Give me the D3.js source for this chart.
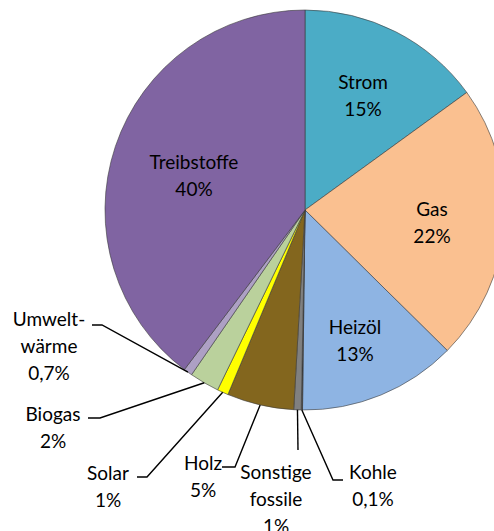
<!DOCTYPE html>
<html>
<head>
<meta charset="utf-8">
<script src="https://cdn.jsdelivr.net/npm/d3@7"></script>
<style>
  html, body { margin: 0; padding: 0; background: #fff; }
  text { font-family: Lato, "Open Sans", sans-serif; font-size: 19px; fill: #000; }
</style>
</head>
<body>
<script>
// Anteile am Endenergieverbrauch (Prozent), im Uhrzeigersinn ab 12 Uhr
const categories = ["Strom", "Gas", "Heizöl", "Kohle", "Sonstige fossile", "Holz", "Solar", "Biogas", "Umweltwärme", "Treibstoffe"];
const values = [15, 22.4, 12.8, 0.1, 0.6, 5.4, 0.9, 2.4, 0.7, 39.7];
const labels = [
  ["Strom", "15%"],
  ["Gas", "22%"],
  ["Heizöl", "13%"],
  ["Kohle", "0,1%"],
  ["Sonstige", "fossile", "1%"],
  ["Holz", "5%"],
  ["Solar", "1%"],
  ["Biogas", "2%"],
  ["Umwelt-", "wärme", "0,7%"],
  ["Treibstoffe", "40%"]
];
const colors = ["#4bacc6", "#fac090", "#8eb4e3", "#3f3f3f", "#808080", "#83661e", "#ffff00", "#bad19c", "#ada0c4", "#8064a2"];

(() => {
  const W = 494, H = 531;
  const cx = 305, cy = 210, r = 200;
  const lineH = 27;

  // Beschriftungen: innen (nur Position) oder außen mit Führungslinie (Knick + Ende)
  const layout = [
    { x: 363, y: 82 },
    { x: 432, y: 209 },
    { x: 355, y: 327 },
    { x: 373, y: 472, lead: [[333, 480], [343, 480]] },
    { x: 276, y: 472, lead: [[298, 450]] },
    { x: 203, y: 463, lead: [[235, 467], [222, 467]] },
    { x: 108, y: 473, lead: [[147, 477], [137, 477]] },
    { x: 53, y: 414, lead: [[100, 418], [88, 418]] },
    { x: 49, y: 319, lead: [[102, 325], [92, 325]] },
    { x: 194, y: 162 }
  ];

  const svg = d3.select("body").append("svg")
    .attr("width", W)
    .attr("height", H);

  const g = svg.append("g").attr("transform", "translate(" + cx + "," + cy + ")");

  const pie = d3.pie().sort(null).value(d => d);
  const arcs = pie(values);
  const arc = d3.arc().innerRadius(0).outerRadius(r);

  g.selectAll("path.slice")
    .data(arcs)
    .enter().append("path")
    .attr("class", "slice")
    .attr("d", arc)
    .attr("fill", (d, i) => colors[i])
    .attr("stroke", "#3a3a3a")
    .attr("stroke-width", 0.6)
    .attr("stroke-linejoin", "round");

  // Führungslinien
  const line = d3.line();
  arcs.forEach((a, i) => {
    const L = layout[i];
    if (!L.lead) return;
    const mid = (a.startAngle + a.endAngle) / 2;
    const p0 = [cx + r * Math.sin(mid), cy - r * Math.cos(mid)];
    svg.append("path")
      .attr("d", line([p0].concat(L.lead)))
      .attr("fill", "none")
      .attr("stroke", "#000")
      .attr("stroke-width", 1.4);
  });

  // Texte
  labels.forEach((lines, i) => {
    const L = layout[i];
    const t = svg.append("text")
      .attr("text-anchor", "middle");
    lines.forEach((s, k) => {
      t.append("tspan")
        .attr("x", L.x)
        .attr("y", L.y + k * lineH)
        .attr("dy", "0.35em")
        .text(s);
    });
  });
})();
</script>
</body>
</html>
